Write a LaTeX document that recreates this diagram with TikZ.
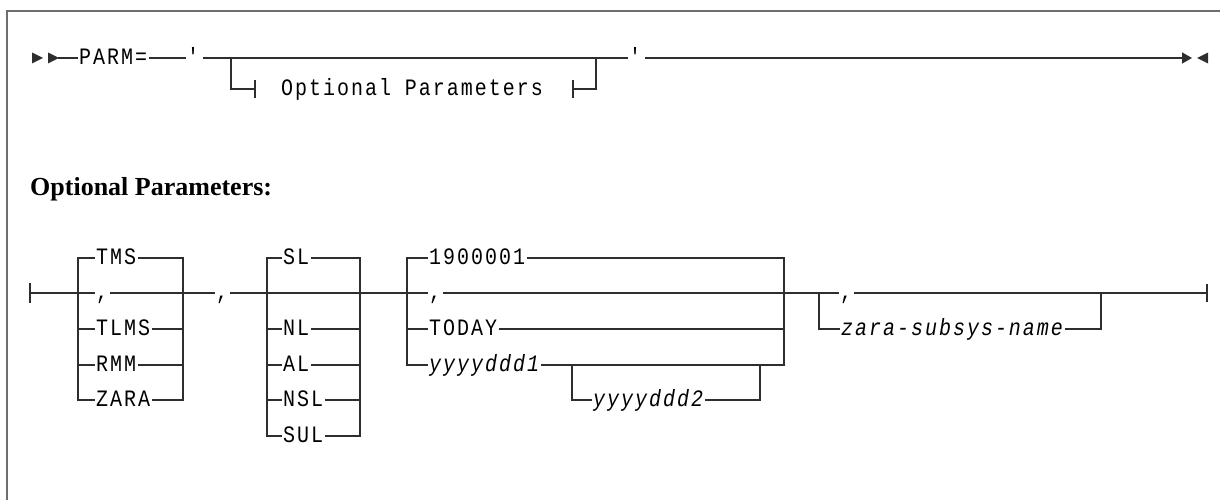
\documentclass[tikz,border=0pt]{standalone}
\usepackage{fontspec}
\setmainfont{Liberation Serif}
\newfontfamily\railfont{Liberation Mono}[FakeStretch=0.85, LetterSpace=8.5, Ligatures=TeXOff]
\usepackage{tikz}
\usetikzlibrary{arrows.meta}
\definecolor{RailGrey}{HTML}{2E2E2E}
\definecolor{FrameGrey}{HTML}{6E6E6E}
\tikzset{
  % Track line
  track/.style={
    draw=RailGrey, line width=1.3pt
  },
  % Keyword on a track
  kw/.style={
    font=\railfont\fontsize{23.5}{24}\selectfont,
    inner xsep=1.5pt, inner ysep=0pt,
    text height=13pt, text depth=0pt,
    anchor=west
  },
  % Variable on a track
  var/.style={
    kw, font=\railfont\itshape\fontsize{23.5}{24}\selectfont
  },
  % Outer frame
  panelframe/.style={
    draw=FrameGrey, line width=2pt
  },
  % Section heading
  heading/.style={
    font=\bfseries\fontsize{26}{30}\selectfont,
    anchor=base west, inner sep=0pt
  }
}

\begin{document}
\begin{tikzpicture}[x=1pt, y=-1pt]
\useasboundingbox (0,0) rectangle (1220,500);

% Frame
\draw[panelframe] (7,500) -- (7,11) -- (1220,11);

% Statement line
\coordinate (lead) at (58,58);
\node[kw] (parm) at (77.5,58) {PARM=};
\node[kw] (q1) at (185.5,58) {\textquotesingle};
\coordinate (obl) at (231,58);
\coordinate (obr) at (596,58);
\node[kw] (q2) at (627.5,58) {\textquotesingle};
\coordinate (tip) at (1192,58);

\fill[RailGrey] (32,52.5) -- (43,58) -- (32,63.5) -- cycle;
\fill[RailGrey] (48,52.5) -- (59,58) -- (48,63.5) -- cycle;
\draw[track] (lead) -- (parm) -- (q1) -- (obl) -- (obr) -- (q2);
\draw[track, -{Triangle[length=10pt, width=11pt]}] (q2) -- (tip);
\fill[RailGrey] (1197,58) -- (1208,52.5) -- (1208,63.5) -- cycle;

% Fragment reference
\coordinate (tl) at (255,89);
\coordinate (tr) at (573,89);
\node[kw, anchor=center] (optref) at (412,89) {Optional Parameters};
\draw[track] (obl) |- (tl);
\draw[track] (obr) |- (tr);
\draw[track] ([yshift=9pt]tl) -- ([yshift=-9pt]tl);
\draw[track] ([yshift=9pt]tr) -- ([yshift=-9pt]tr);

% Fragment heading
\node[heading] (hdr) at (30,195) {Optional Parameters:};

% Junctions
\coordinate (bstart) at (30,293);
\coordinate (g1l) at (78,293);
\coordinate (g1r) at (183,293);
\coordinate (g2l) at (267,293);
\coordinate (g2r) at (360,293);
\coordinate (g3l) at (407,293);
\coordinate (g3r) at (784,293);
\coordinate (s3l) at (572,365);
\coordinate (s3r) at (760,365);
\coordinate (g4l) at (819,293);
\coordinate (g4r) at (1101,293);
\coordinate (bend) at (1207,293);

% Group 1
\node[kw] (tms)  at (94.5,258) {TMS};
\node[kw] (c1)   at (94.5,293) {,};
\node[kw] (tlms) at (94.5,329) {TLMS};
\node[kw] (rmm)  at (94.5,365) {RMM};
\node[kw] (zara) at (94.5,400) {ZARA};
\draw[track] (tms) -| (g1l |- zara) -- (zara);
\draw[track] (tms) -| (g1r |- zara) -- (zara);
\draw[track] (g1l |- tlms) -- (tlms) -- (g1r |- tlms);
\draw[track] (g1l |- rmm)  -- (rmm)  -- (g1r |- rmm);

% Separator
\node[kw] (sep) at (214.5,293) {,};

% Group 2
\node[kw] (sl)  at (281.5,258) {SL};
\node[kw] (nl)  at (281.5,329) {NL};
\node[kw] (al)  at (281.5,365) {AL};
\node[kw] (nsl) at (281.5,400) {NSL};
\node[kw] (sul) at (281.5,436) {SUL};
\draw[track] (sl) -| (g2l |- sul) -- (sul);
\draw[track] (sl) -| (g2r |- sul) -- (sul);
\draw[track] (g2l |- nl)  -- (nl)  -- (g2r |- nl);
\draw[track] (g2l |- al)  -- (al)  -- (g2r |- al);
\draw[track] (g2l |- nsl) -- (nsl) -- (g2r |- nsl);

% Group 3
\node[kw]  (d0)    at (427.5,258) {1900001};
\node[kw]  (c3)    at (427.5,293) {,};
\node[kw]  (today) at (427.5,329) {TODAY};
\node[var] (d1)    at (427.5,365) {yyyyddd1};
\node[var] (d2)    at (591.5,400) {yyyyddd2};
\draw[track] (d0) -| (g3l |- d1) -- (d1);
\draw[track] (d0) -| (g3r |- d1) -- (d1);
\draw[track] (g3l |- today) -- (today) -- (g3r |- today);
\draw[track] (s3l) |- (d2) -| (s3r);

% Group 4
\node[kw]  (c4)  at (838.5,293) {,};
\node[var] (zss) at (839.5,329) {zara-subsys-name};
\draw[track] (g4l) |- (zss) -| (g4r);

% Main track
\draw[track] ([yshift=10pt]bstart) -- ([yshift=-10pt]bstart);
\draw[track] (bstart) -- (g1l) -- (c1) -- (g1r) -- (sep) -- (g2l) -- (g2r)
  -- (g3l) -- (c3) -- (g3r) -- (g4l) -- (c4) -- (g4r) -- (bend);
\draw[track] ([yshift=9pt]bend) -- ([yshift=-9pt]bend);

\end{tikzpicture}
\end{document}
